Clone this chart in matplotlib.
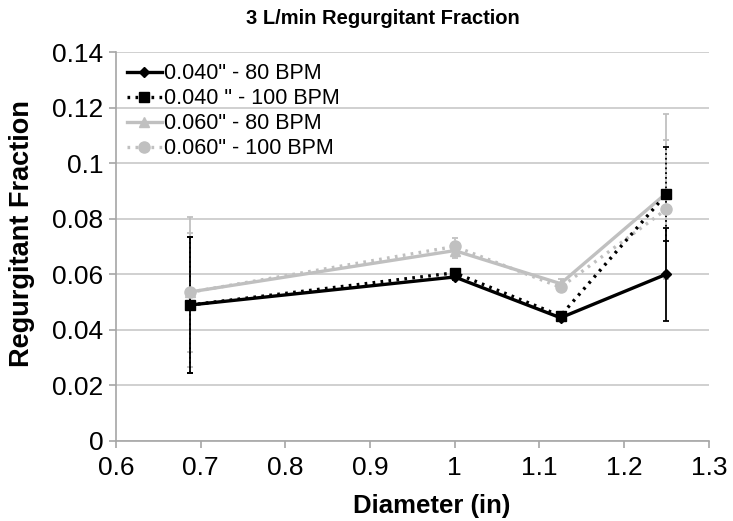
import matplotlib
matplotlib.use("Agg")
import matplotlib.pyplot as plt
from matplotlib.lines import Line2D

plt.rcParams['font.family'] = ['Liberation Sans', 'DejaVu Sans']

diameter = [0.6875, 1.0, 1.125, 1.25]
labels = ['0.040" - 80 BPM', '0.040 " - 100 BPM', '0.060" - 80 BPM', '0.060" - 100 BPM']
rf_040_80 = [0.0489, 0.0590, 0.0443, 0.0600]
rf_040_100 = [0.0489, 0.0605, 0.0450, 0.0889]
rf_060_80 = [0.0536, 0.0685, 0.0566, 0.0892]
rf_060_100 = [0.0535, 0.0700, 0.0553, 0.0834]
err_040_80 = [0.0245, 0.0010, 0.0012, 0.0168]
err_040_100 = [0.0245, 0.0010, 0.0012, 0.0170]
err_060_80 = [0.0270, 0.0025, 0.0015, 0.0285]
err_060_100 = [0.0215, 0.0030, 0.0015, 0.0250]

fig = plt.figure(figsize=(7.33, 5.21), dpi=100)
ax = fig.add_axes([0.158, 0.154, 0.809, 0.746])

gray = '#c0c0c0'
dot = (0, (0.8, 1.6))
series = [
    (rf_060_80, err_060_80, gray, '-', '^', 7, labels[2]),
    (rf_060_100, err_060_100, gray, dot, 'o', 8, labels[3]),
    (rf_040_80, err_040_80, 'black', '-', 'D', 5, labels[0]),
    (rf_040_100, err_040_100, 'black', dot, 's', 7, labels[1]),
]
handles = {}
for y, e, c, ls, m, ms, lab in series:
    eb = ax.errorbar(diameter, y, yerr=e, color=c, ecolor=c, linestyle=ls,
                     linewidth=2.4, marker=m, markersize=ms, elinewidth=1.3,
                     capsize=2.5, capthick=1.3, zorder=3)
    if ls != '-':
        for lc in eb[2]:
            lc.set_linestyle(':')
    handles[lab] = Line2D([], [], color=c, linestyle=ls, linewidth=2.4,
                          marker=m, markersize=ms)

ax.set_xlim(0.6, 1.3)
ax.set_ylim(0, 0.14)
ax.set_xticks([0.6, 0.7, 0.8, 0.9, 1.0, 1.1, 1.2, 1.3])
ax.set_xticklabels(['0.6', '0.7', '0.8', '0.9', '1', '1.1', '1.2', '1.3'])
ax.set_yticks([0, 0.02, 0.04, 0.06, 0.08, 0.1, 0.12, 0.14])
ax.set_yticklabels(['0', '0.02', '0.04', '0.06', '0.08', '0.1', '0.12', '0.14'])
ax.grid(axis='y', color='#c8c8c8', linewidth=1.2, zorder=0)
ax.set_axisbelow(True)
for s in ['top', 'right']:
    ax.spines[s].set_visible(False)
for s in ['left', 'bottom']:
    ax.spines[s].set_color('#a6a6a6')
    ax.spines[s].set_linewidth(1.2)
ax.tick_params(axis='both', colors='#a6a6a6', labelcolor='black', labelsize=19,
               length=5, width=1.2, direction='out')
ax.tick_params(axis='x', pad=6)
ax.tick_params(axis='y', pad=4)

ax.set_xlabel('Diameter (in)', fontsize=18.5, fontweight='bold')
ax.xaxis.set_label_coords(0.533, -0.137)
ax.set_ylabel('Regurgitant Fraction', fontsize=19.5, fontweight='bold')
ax.yaxis.set_label_coords(-0.136, 0.534)
ax.set_title('3 L/min Regurgitant Fraction', fontsize=14.5, fontweight='bold',
             x=0.45, pad=20)

leg = ax.legend([handles[l] for l in labels], labels, loc='upper left',
                bbox_to_anchor=(-0.01, 1.015), frameon=False, fontsize=15.5,
                handlelength=1.6, handletextpad=0.1, labelspacing=0.18,
                borderaxespad=0.4)

fig.savefig('out.png', dpi=100, facecolor='white')
